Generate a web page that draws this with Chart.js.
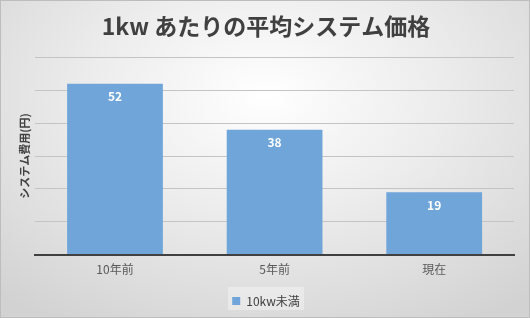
<!DOCTYPE html>
<html>
<head>
<meta charset="utf-8">
<script src="https://cdn.jsdelivr.net/npm/chart.js@4.4.0/dist/chart.umd.min.js"></script>
<style>
  html, body { margin: 0; padding: 0; }
  #wrap {
    width: 528px; height: 316px;
    border: 1px solid #bdbdbd;
    background: radial-gradient(ellipse 75% 85% at 50% 30%, #ffffff 0%, #ececec 45%, #d2d2d2 100%);
  }
  canvas { display: block; }
</style>
</head>
<body>
<div id="wrap"><canvas id="chart" width="528" height="316"></canvas></div>
<script>
// chart data
const categories = ['10年前', '5年前', '現在'];
const seriesName = '10kw未満';
const values = [52, 38, 19];
const yMax = 60;
const yStep = 10;

const FONT = '"Noto Sans CJK JP", "Noto Sans", sans-serif';

// value labels inside the top of each bar
const barLabels = {
    id: 'barLabels',
    afterDatasetsDraw(chart) {
        const ctx = chart.ctx;
        const meta = chart.getDatasetMeta(0);
        ctx.save();
        ctx.fillStyle = '#ffffff';
        ctx.font = 'bold 12px ' + FONT;
        ctx.textAlign = 'center';
        ctx.textBaseline = 'middle';
        meta.data.forEach((bar, i) => {
            ctx.fillText(values[i], bar.x, bar.y + 13);
        });
        ctx.restore();
    }
};

// lighter box behind the legend
const legendBg = {
    id: 'legendBg',
    beforeDraw(chart) {
        const lg = chart.legend;
        if (!lg) return;
        const ctx = chart.ctx;
        ctx.save();
        ctx.fillStyle = 'rgba(255,255,255,0.35)';
        ctx.fillRect(lg.left + lg.width / 2 - 38, lg.top + 2, 76, 23);
        ctx.restore();
    }
};

new Chart(document.getElementById('chart'), {
    type: 'bar',
    data: {
        labels: categories,
        datasets: [{
            label: seriesName,
            data: values,
            backgroundColor: '#6fa5d8',
            borderWidth: 0,
            barPercentage: 0.6,
            categoryPercentage: 1.0
        }]
    },
    options: {
        responsive: false,
        animation: false,
        layout: { padding: { left: 17, right: 15, top: 6, bottom: 0 } },
        plugins: {
            title: {
                display: true,
                text: '1kw あたりの平均システム価格',
                color: '#404040',
                font: { family: FONT, size: 23, weight: 'bold' },
                padding: { top: 5, bottom: 18 }
            },
            legend: {
                position: 'bottom',
                labels: {
                    color: '#404040',
                    font: { family: FONT, size: 12 },
                    boxWidth: 8,
                    boxHeight: 8,
                    padding: 10
                }
            },
            tooltip: { enabled: false }
        },
        scales: {
            x: {
                grid: { display: false, drawTicks: false },
                border: { color: '#404040', width: 2 },
                ticks: {
                    color: '#595959',
                    font: { family: FONT, size: 12 },
                    padding: 8
                }
            },
            y: {
                min: 0,
                max: yMax,
                ticks: { display: false, stepSize: yStep },
                grid: { color: '#c4c4c4', drawTicks: false },
                border: { display: false },
                title: {
                    display: true,
                    text: 'システム費用(円)',
                    color: '#404040',
                    font: { family: FONT, size: 11, weight: 'bold' },
                    padding: { top: 0, bottom: 4 }
                }
            }
        }
    },
    plugins: [barLabels, legendBg]
});
</script>
</body>
</html>
